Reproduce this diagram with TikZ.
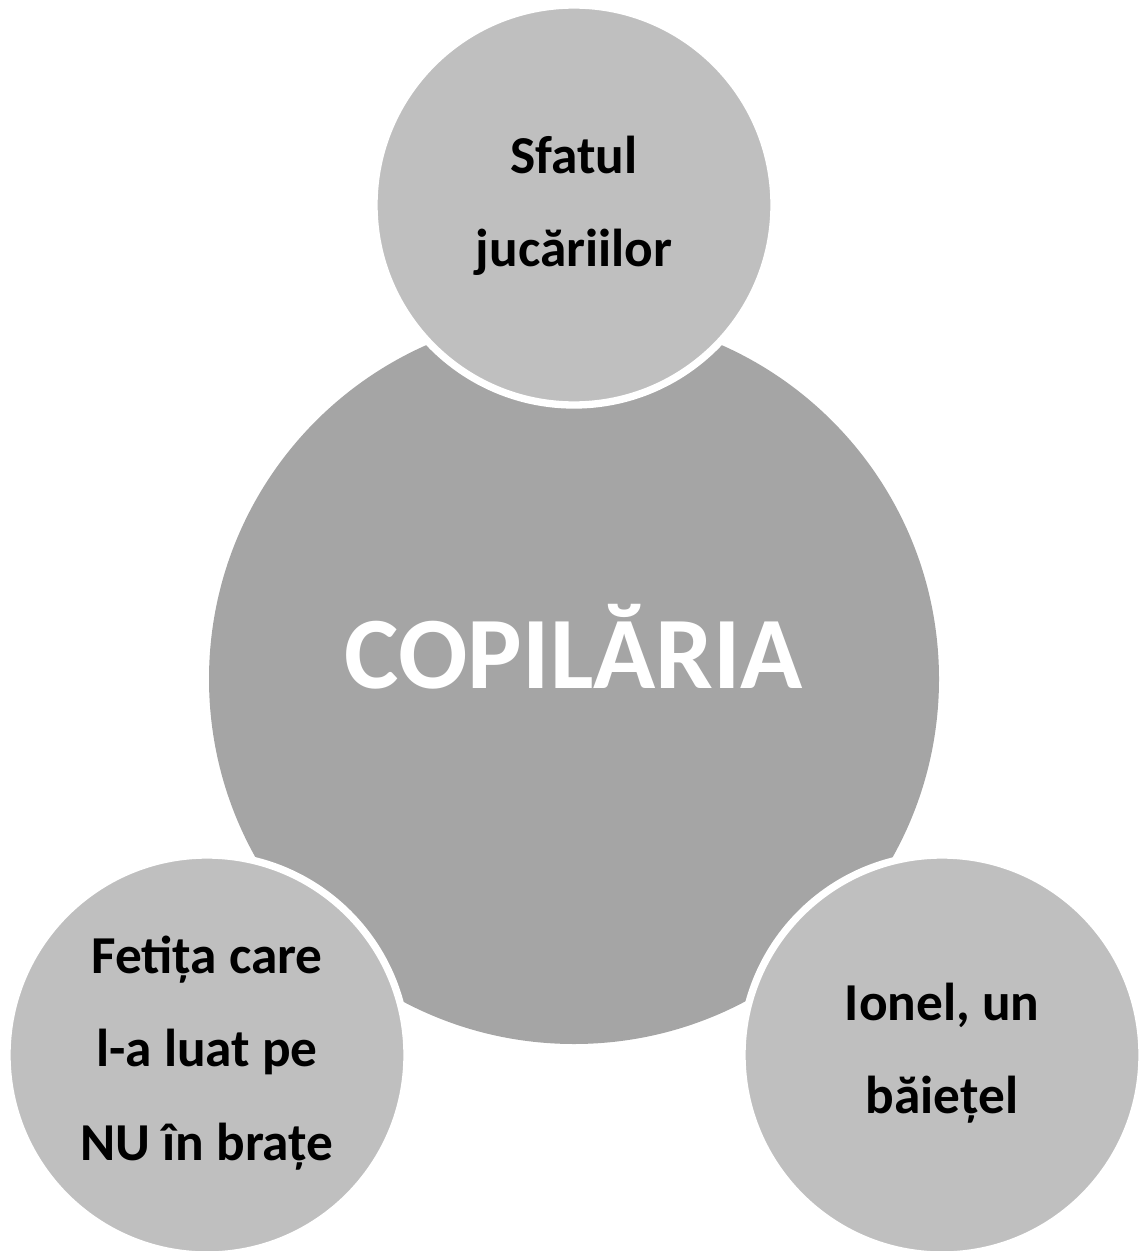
\documentclass[tikz,border=0pt]{standalone}
\usepackage{fontspec}
\setmainfont{Carlito}
\begin{document}
\begin{tikzpicture}[x=0.75pt,y=-0.75pt,
  bigc/.style={circle,fill=bigfill,draw=none,minimum size=730*0.75pt,inner sep=0pt},
  smallc/.style={circle,fill=smallfill,draw=white,line width=5.5pt,minimum size=400*0.75pt,inner sep=0pt},
  lbl/.style={align=center,font=\fontsize{40}{70}\selectfont\bfseries,text=black},
  biglbl/.style={font=\fontsize{77}{80}\selectfont\bfseries,text=white}]
\definecolor{bigfill}{HTML}{A5A5A5}
\definecolor{smallfill}{HTML}{BFBFBF}
\useasboundingbox (0,0) rectangle (1139,1251);
\node[bigc] (main) at (574,679) {};
\node[smallc] (top) at (574,205) {};
\node[smallc] (bl) at (207,1055) {};
\node[smallc] (br) at (942,1055) {};
\node[biglbl] (mainl) at (574,647) {COPILĂRIA};
\node[lbl] (topl) at (574,206) {Sfatul\\jucăriilor};
\node[lbl] (bll) at (207,1053) {Fetița care\\l-a luat pe\\NU în brațe};
\node[lbl] (brl) at (942,1053) {Ionel, un\\băiețel};
\end{tikzpicture}
\end{document}
